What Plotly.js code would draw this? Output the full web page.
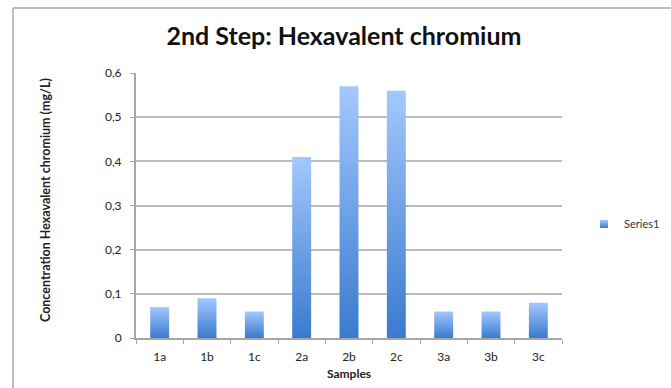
<!DOCTYPE html>
<html>
<head>
<meta charset="utf-8">
<script src="https://cdn.plot.ly/plotly-3.0.1.min.js"></script>
<style>
  html, body { margin: 0; padding: 0; background: #fff; }
  #chart { width: 671px; height: 388px; }
</style>
</head>
<body>
<div id="chart"></div>
<script>
// Hexavalent chromium concentration per sample (mg/L)
const samples = ['1a', '1b', '1c', '2a', '2b', '2c', '3a', '3b', '3c'];
const concentration = [0.07, 0.09, 0.06, 0.41, 0.57, 0.56, 0.06, 0.06, 0.08];
const seriesName = 'Series1';
const yTicks = [0, 0.1, 0.2, 0.3, 0.4, 0.5, 0.6];

const W = 671, H = 388;
const M = { l: 136, r: 109, t: 73, b: 50, autoexpand: false };
const pw = W - M.l - M.r, ph = H - M.t - M.b;
const px = v => (v - M.l) / pw;          // pixel -> paper x
const py = v => 1 - (v - M.t) / ph;      // pixel -> paper y

const txt = '#222';
const font = 'Lato, "Open Sans", sans-serif';

const trace = {
  type: 'bar',
  x: samples,
  y: concentration,
  name: seriesName,
  showlegend: true,
  marker: { color: '#6a9fe6', line: { width: 0 } },
  hoverinfo: 'x+y'
};

const layout = {
  width: W, height: H,
  margin: M,
  paper_bgcolor: '#fff',
  plot_bgcolor: '#fff',
  separators: ', ',
  font: { family: font, color: txt, size: 12 },
  bargap: 0.6,
  title: {
    text: '<b>2nd Step: Hexavalent chromium</b>',
    font: { family: font, size: 25, color: '#111' },
    x: px(344), xref: 'paper', xanchor: 'center',
    y: 42, yref: 'container', yanchor: 'middle'
  },
  xaxis: {
    type: 'category',
    showline: true, linecolor: '#a6a6a6', linewidth: 2,
    ticks: 'outside', tickson: 'boundaries', ticklen: 4, tickcolor: '#a6a6a6', tickwidth: 1,
    showgrid: false,
    tickfont: { size: 12, color: txt },
    ticklabelstandoff: 7,
    title: { text: '<b>Samples</b>', font: { size: 12, color: txt }, standoff: 6 }
  },
  yaxis: {
    range: [0, 0.6],
    tickvals: yTicks,
    showline: true, linecolor: '#a6a6a6', linewidth: 2,
    ticks: 'outside', ticklen: 4, tickcolor: '#a6a6a6',
    showgrid: true, gridcolor: '#bcbcbc', gridwidth: 2,
    zeroline: false,
    tickfont: { size: 12, color: txt },
    ticklabelstandoff: 6,
    title: { text: '' }
  },
  legend: {
    x: px(584), xanchor: 'left',
    y: py(224), yanchor: 'middle',
    font: { size: 11, color: '#333' },
    bgcolor: 'rgba(0,0,0,0)',
    itemwidth: 30
  },
  annotations: [{
    text: '<b>Concentration Hexavalent chromium (mg/L)</b>',
    textangle: -90,
    xref: 'paper', yref: 'paper',
    x: px(45), y: py(200),
    xanchor: 'center', yanchor: 'middle',
    showarrow: false,
    font: { size: 12.5, color: txt }
  }],
  shapes: [
    // frame of the chart area (left and top edges)
    { type: 'line', xref: 'paper', yref: 'paper', x0: px(13), x1: px(13), y0: py(8), y1: py(H + 5),
      line: { color: '#bdbdbd', width: 2 } },
    { type: 'line', xref: 'paper', yref: 'paper', x0: px(13), x1: px(W + 5), y0: py(8), y1: py(8),
      line: { color: '#bdbdbd', width: 2 } }
  ]
};

Plotly.newPlot('chart', [trace], layout, { staticPlot: true, displayModeBar: false }).then(gd => {
  // vertical light-to-dark blue shading on every bar and the legend swatch
  const NS = 'http://www.w3.org/2000/svg';
  const svg = gd.querySelector('svg.main-svg');
  let defs = svg.querySelector('defs');
  if (!defs) { defs = document.createElementNS(NS, 'defs'); svg.insertBefore(defs, svg.firstChild); }
  const grad = document.createElementNS(NS, 'linearGradient');
  grad.setAttribute('id', 'barShade');
  grad.setAttribute('x1', '0'); grad.setAttribute('y1', '0');
  grad.setAttribute('x2', '0'); grad.setAttribute('y2', '1');
  [['0%', '#a3c8fd'], ['100%', '#3a7ace']].forEach(([o, c]) => {
    const s = document.createElementNS(NS, 'stop');
    s.setAttribute('offset', o); s.setAttribute('stop-color', c);
    grad.appendChild(s);
  });
  defs.appendChild(grad);
  gd.querySelectorAll('.barlayer .point path').forEach(p => { p.style.fill = 'url(#barShade)'; });
  gd.querySelectorAll('.legend .legendpoints path').forEach(p => {
    p.style.fill = 'url(#barShade)';
    p.setAttribute('d', 'M4,4H-4V-4H4Z');
  });
});
</script>
</body>
</html>
